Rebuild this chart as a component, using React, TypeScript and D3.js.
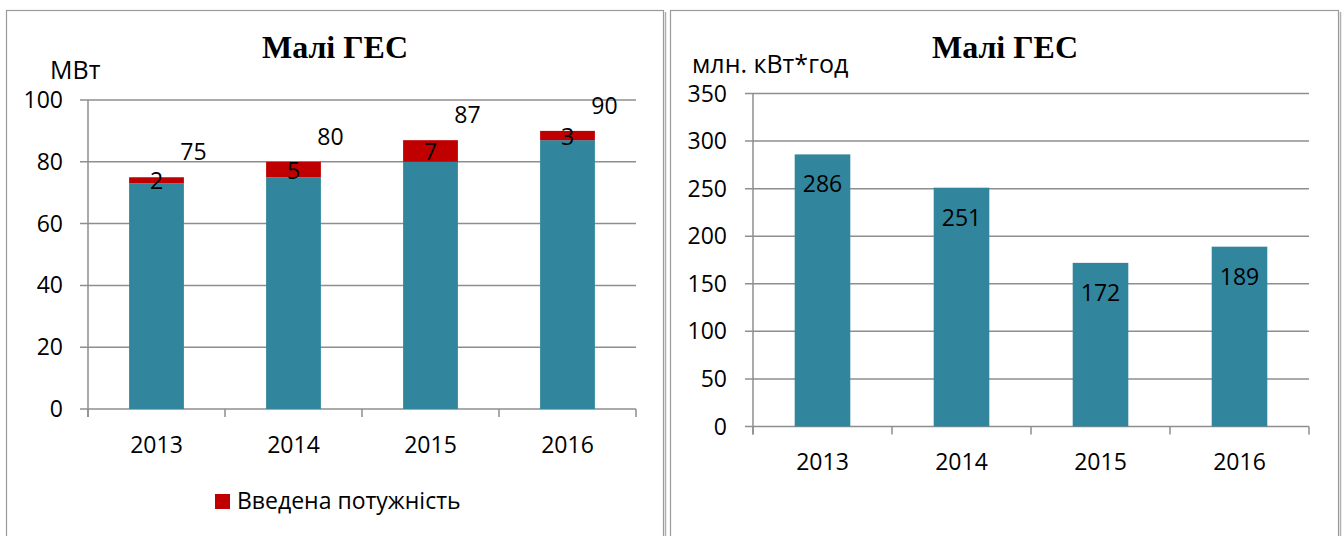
import React, { useEffect, useRef } from "react";
import * as d3 from "d3";

// values
const years = ["2013", "2014", "2015", "2016"];
const capacityBase = [73, 75, 80, 87];
const capacityAdded = [2, 5, 7, 3];
const capacityTotal = [75, 80, 87, 90];
const generation = [286, 251, 172, 189];
const capacityTicks = [0, 20, 40, 60, 80, 100];
const generationTicks = [0, 50, 100, 150, 200, 250, 300, 350];

const TEAL = "#31859C";
const RED = "#C00000";
const GRID = "#8e8e8e";
const FONT = "'Open Sans', sans-serif";
const FS = 23;

const App = () => {
  const svgRef: any = useRef();

  useEffect(() => {
    const svg = d3.select(svgRef.current);
    svg.selectAll("*").remove();

    // panel frames
    const frames = [
      { x: 6, y: 10, w: 657 },
      { x: 670, y: 10, w: 668 },
    ];
    frames.forEach((f) => {
      svg.append("rect").attr("x", f.x + 0.5).attr("y", f.y + 0.5).attr("width", f.w).attr("height", 560)
        .attr("fill", "#fff").attr("stroke", "#9a9a9a").attr("stroke-width", 1.2);
      svg.append("line").attr("x1", f.x + f.w + 2.5).attr("x2", f.x + f.w + 2.5).attr("y1", f.y + 2).attr("y2", 536)
        .attr("stroke", "#b0b0b0").attr("stroke-width", 1.5);
    });

    // ---------- left chart: capacity ----------
    const L = { left: 88, right: 636, top: 100, bottom: 409 };
    const xL = d3.scaleBand().domain(years).range([L.left, L.right]).paddingInner(0.6).paddingOuter(0.3);
    const xLcat = d3.scaleBand().domain(years).range([L.left, L.right]);
    const yL = d3.scaleLinear().domain([0, 100]).range([L.bottom, L.top]);
    const gL = svg.append("g");

    gL.selectAll(".grid").data(capacityTicks).join("line")
      .attr("x1", L.left - 8).attr("x2", L.right)
      .attr("y1", (d) => yL(d)).attr("y2", (d) => yL(d))
      .attr("stroke", GRID).attr("stroke-width", 1.5);
    gL.append("line").attr("x1", L.left).attr("x2", L.left).attr("y1", L.top).attr("y2", L.bottom + 8)
      .attr("stroke", GRID).attr("stroke-width", 1.5);
    gL.selectAll(".ctick").data([...years.map((y) => xLcat(y) as number), L.right]).join("line")
      .attr("x1", (d) => d).attr("x2", (d) => d).attr("y1", L.bottom).attr("y2", L.bottom + 8)
      .attr("stroke", GRID).attr("stroke-width", 1.5);
    gL.selectAll(".ylab").data(capacityTicks).join("text")
      .attr("x", 63).attr("y", (d) => yL(d)).attr("dy", "0.35em").attr("text-anchor", "end")
      .attr("font-family", FONT).attr("font-size", FS).text((d) => d);
    gL.selectAll(".xlab").data(years).join("text")
      .attr("x", (d) => (xLcat(d) as number) + xLcat.bandwidth() / 2).attr("y", 453).attr("text-anchor", "middle")
      .attr("font-family", FONT).attr("font-size", FS).text((d) => d);

    gL.selectAll(".base").data(years).join("rect")
      .attr("x", (d) => xL(d) as number).attr("width", xL.bandwidth())
      .attr("y", (d, i) => yL(capacityBase[i])).attr("height", (d, i) => yL(0) - yL(capacityBase[i]))
      .attr("fill", TEAL);
    gL.selectAll(".added").data(years).join("rect")
      .attr("x", (d) => xL(d) as number).attr("width", xL.bandwidth())
      .attr("y", (d, i) => yL(capacityBase[i] + capacityAdded[i]))
      .attr("height", (d, i) => yL(capacityBase[i]) - yL(capacityBase[i] + capacityAdded[i]))
      .attr("fill", RED);
    gL.selectAll(".addlab").data(years).join("text")
      .attr("x", (d) => (xL(d) as number) + xL.bandwidth() / 2)
      .attr("y", (d, i) => yL(capacityBase[i] + capacityAdded[i] / 2) + 1).attr("dy", "0.35em")
      .attr("text-anchor", "middle").attr("font-family", FONT).attr("font-size", FS)
      .text((d, i) => capacityAdded[i]);
    gL.selectAll(".totlab").data(years).join("text")
      .attr("x", (d) => (xL(d) as number) + xL.bandwidth() / 2 + 37)
      .attr("y", (d, i) => yL(capacityTotal[i]) - 17)
      .attr("text-anchor", "middle").attr("font-family", FONT).attr("font-size", FS)
      .text((d, i) => capacityTotal[i]);

    svg.append("text").attr("x", 335).attr("y", 58).attr("text-anchor", "middle")
      .attr("font-family", "'Liberation Serif', serif").attr("font-weight", "bold").attr("font-size", 32)
      .text("Малі ГЕС");
    svg.append("text").attr("x", 50).attr("y", 79).attr("font-family", FONT).attr("font-size", 25).text("МВт");

    svg.append("rect").attr("x", 215).attr("y", 494).attr("width", 15).attr("height", 15).attr("fill", RED);
    svg.append("text").attr("x", 237).attr("y", 509).attr("font-family", FONT).attr("font-size", FS)
      .text("Введена потужність");

    // ---------- right chart: generation ----------
    const R = { left: 753, right: 1309, top: 93.5, bottom: 426.5 };
    const xR = d3.scaleBand().domain(years).range([R.left, R.right]).paddingInner(0.6).paddingOuter(0.3);
    const xRcat = d3.scaleBand().domain(years).range([R.left, R.right]);
    const yR = d3.scaleLinear().domain([0, 350]).range([R.bottom, R.top]);
    const gR = svg.append("g");

    gR.selectAll(".grid").data(generationTicks).join("line")
      .attr("x1", R.left - 8).attr("x2", R.right)
      .attr("y1", (d) => yR(d)).attr("y2", (d) => yR(d))
      .attr("stroke", GRID).attr("stroke-width", 1.5);
    gR.append("line").attr("x1", R.left).attr("x2", R.left).attr("y1", R.top).attr("y2", R.bottom + 8)
      .attr("stroke", GRID).attr("stroke-width", 1.5);
    gR.selectAll(".ctick").data([...years.map((y) => xRcat(y) as number), R.right]).join("line")
      .attr("x1", (d) => d).attr("x2", (d) => d).attr("y1", R.bottom).attr("y2", R.bottom + 8)
      .attr("stroke", GRID).attr("stroke-width", 1.5);
    gR.selectAll(".ylab").data(generationTicks).join("text")
      .attr("x", 727).attr("y", (d) => yR(d)).attr("dy", "0.35em").attr("text-anchor", "end")
      .attr("font-family", FONT).attr("font-size", FS).text((d) => d);
    gR.selectAll(".xlab").data(years).join("text")
      .attr("x", (d) => (xRcat(d) as number) + xRcat.bandwidth() / 2).attr("y", 470).attr("text-anchor", "middle")
      .attr("font-family", FONT).attr("font-size", FS).text((d) => d);

    gR.selectAll(".bar").data(years).join("rect")
      .attr("x", (d) => xR(d) as number).attr("width", xR.bandwidth())
      .attr("y", (d, i) => yR(generation[i])).attr("height", (d, i) => yR(0) - yR(generation[i]))
      .attr("fill", TEAL);
    gR.selectAll(".barlab").data(years).join("text")
      .attr("x", (d) => (xR(d) as number) + xR.bandwidth() / 2)
      .attr("y", (d, i) => yR(generation[i]) + 30).attr("dy", "0.35em")
      .attr("text-anchor", "middle").attr("font-family", FONT).attr("font-size", FS)
      .text((d, i) => generation[i]);

    svg.append("text").attr("x", 1005).attr("y", 58).attr("text-anchor", "middle")
      .attr("font-family", "'Liberation Serif', serif").attr("font-weight", "bold").attr("font-size", 32)
      .text("Малі ГЕС");
    svg.append("text").attr("x", 692).attr("y", 73).attr("font-family", FONT).attr("font-size", 25)
      .text("млн. кВт*год");
  }, []);

  return (
    <svg ref={svgRef} width={1343} height={536}
      style={{ position: "absolute", left: 0, top: 0, background: "#fff" }}></svg>
  );
};

export default App;
